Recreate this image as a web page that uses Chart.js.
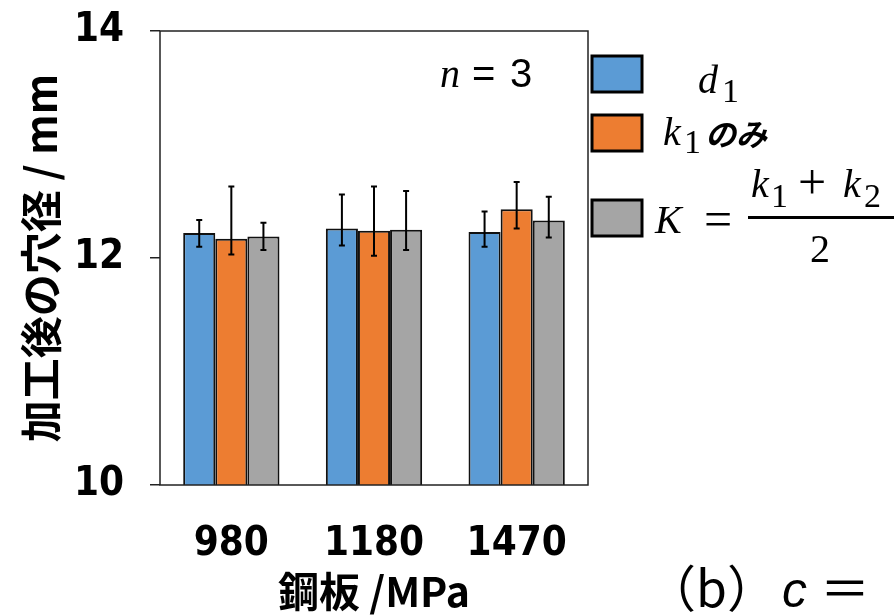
<!DOCTYPE html>
<html>
<head>
<meta charset="utf-8">
<script src="https://cdn.jsdelivr.net/npm/chart.js@4"></script>
<style>
  html, body { margin: 0; padding: 0; background: #fff; }
  #wrap { width: 894px; height: 616px; position: relative; }
</style>
</head>
<body>
<div id="wrap"><canvas id="bar-chart" width="894" height="616"></canvas></div>
<script>
// steel grades (MPa)
const categories = ['980', '1180', '1470'];
const seriesNames = ['d1', 'k1only', 'K'];
// hole diameter after processing, mm
const d1Values = [12.22, 12.26, 12.23];
const k1Values = [12.17, 12.24, 12.43];
const kValues = [12.19, 12.25, 12.33];
// error bar ends (low / high)
const d1Low = [12.10, 12.11, 12.10];
const d1High = [12.335, 12.56, 12.41];
const k1Low = [12.03, 12.02, 12.26];
const k1High = [12.63, 12.63, 12.67];
const kLow = [12.07, 12.07, 12.18];
const kHigh = [12.31, 12.59, 12.54];
const yTicks = [10, 12, 14];

const FONT_NUM = '"DejaVu Sans Condensed", "Liberation Sans", sans-serif';
const FONT_JP = '"Noto Sans CJK JP", sans-serif';
const FONT_MATH = '"Liberation Serif", "DejaVu Serif", serif';

const errorBars = {
  id: 'errorBars',
  afterDatasetsDraw(chart) {
    const ctx = chart.ctx;
    const y = chart.scales.y;
    const ends = [[d1Low, d1High], [k1Low, k1High], [kLow, kHigh]];
    ctx.save();
    ctx.strokeStyle = '#000';
    ctx.lineWidth = 2;
    chart.data.datasets.forEach((ds, i) => {
      chart.getDatasetMeta(i).data.forEach((bar, j) => {
        const x = bar.x;
        const lo = y.getPixelForValue(ends[i][0][j]);
        const hi = y.getPixelForValue(ends[i][1][j]);
        ctx.beginPath();
        ctx.moveTo(x, lo); ctx.lineTo(x, hi);
        ctx.moveTo(x - 3, lo); ctx.lineTo(x + 3, lo);
        ctx.moveTo(x - 3, hi); ctx.lineTo(x + 3, hi);
        ctx.stroke();
      });
    });
    ctx.restore();
  }
};

function txt(ctx, s, x, y, font) {
  ctx.font = font;
  ctx.fillText(s, x, y);
}

const decorations = {
  id: 'decorations',
  afterDraw(chart) {
    const ctx = chart.ctx;
    const a = chart.chartArea;
    ctx.save();
    // plot frame
    ctx.strokeStyle = '#222';
    ctx.lineWidth = 1.5;
    ctx.strokeRect(a.left, a.top, a.right - a.left, a.bottom - a.top);

    ctx.fillStyle = '#000';
    ctx.textBaseline = 'alphabetic';
    const it = 'italic 40px ' + FONT_MATH;
    const up = '40px ' + FONT_MATH;
    const big = '50px ' + FONT_MATH;
    const sub = '34px ' + FONT_MATH;
    // n = 3
    txt(ctx, 'n', 440, 87, it);
    txt(ctx, '=', 472, 87, '40px "Liberation Sans", sans-serif');
    txt(ctx, '3', 510, 87, '40px "Liberation Sans", sans-serif');

    // legend
    const colors = chart.data.datasets.map(d => d.backgroundColor);
    const boxes = [[592, 56], [592, 115], [592, 200]];
    boxes.forEach((b, i) => {
      ctx.fillStyle = colors[i];
      ctx.fillRect(b[0], b[1], 50, 36);
      ctx.strokeStyle = '#000';
      ctx.lineWidth = 3;
      ctx.strokeRect(b[0], b[1], 50, 36);
    });
    ctx.fillStyle = '#000';
    // d1
    txt(ctx, 'd', 698, 93, it);
    txt(ctx, '1', 722, 102, sub);
    // k1 only
    txt(ctx, 'k', 663, 145, it);
    txt(ctx, '1', 684, 153, sub);
    txt(ctx, 'のみ', 705, 146, 'bold italic 31px ' + FONT_JP);
    // K = (k1 + k2) / 2
    txt(ctx, 'K', 655, 233, it);
    txt(ctx, '=', 704, 236, big);
    ctx.fillRect(748, 216, 150, 3);
    txt(ctx, 'k', 751, 197, it);
    txt(ctx, '1', 771, 207, sub);
    txt(ctx, '+', 798, 199, big);
    txt(ctx, 'k', 843, 197, it);
    txt(ctx, '2', 864, 207, sub);
    txt(ctx, '2', 810, 262, up);

    // panel label
    txt(ctx, '（b）', 646, 607, '50px ' + FONT_JP);
    txt(ctx, 'c', 782, 607, 'italic 50px "Liberation Sans", sans-serif');
    txt(ctx, '＝', 820, 607, '50px ' + FONT_JP);
    ctx.restore();
  }
};

new Chart(document.getElementById('bar-chart').getContext('2d'), {
  type: 'bar',
  data: {
    labels: categories,
    datasets: [
      { label: seriesNames[0], data: d1Values, backgroundColor: '#5B9BD5' },
      { label: seriesNames[1], data: k1Values, backgroundColor: '#ED7D31' },
      { label: seriesNames[2], data: kValues, backgroundColor: '#A5A5A5' },
    ].map(d => Object.assign(d, { borderColor: '#111', borderWidth: 2, borderSkipped: 'bottom' })),
  },
  options: {
    responsive: false,
    animation: false,
    layout: { padding: { left: 0, top: 31, right: 306, bottom: 0 } },
    plugins: { legend: { display: false }, tooltip: { enabled: false } },
    datasets: { bar: { barPercentage: 1, categoryPercentage: 0.675 } },
    scales: {
      x: {
        grid: { display: false },
        border: { display: false },
        ticks: { color: '#000', font: { family: FONT_NUM, size: 40, weight: 'bold' }, padding: 28 },
        title: { display: true, text: '鋼板 /MPa', color: '#000', font: { family: FONT_JP, size: 41, weight: 'bold' }, padding: { top: 0, bottom: 0 } },
        afterFit(scale) { scale.height = 131; scale.paddingLeft = 0; scale.paddingRight = 0; },
      },
      y: {
        min: 10, max: 14,
        afterBuildTicks(scale) { scale.ticks = yTicks.map(v => ({ value: v })); },
        grid: { drawOnChartArea: false, tickLength: 10, color: '#222', lineWidth: 1.5 },
        border: { display: false },
        ticks: { color: '#000', font: { family: FONT_NUM, size: 40, weight: 'bold', lineHeight: 1 }, padding: 26 },
        title: { display: true, text: '加工後の穴径 / mm', color: '#000', font: { family: FONT_JP, size: 42, weight: 'bold' }, padding: { top: 16, bottom: 0 } },
        afterFit(scale) { scale.width = 160; scale.paddingTop = 0; scale.paddingBottom = 0; },
      },
    },
  },
  plugins: [errorBars, decorations],
});
</script>
</body>
</html>
